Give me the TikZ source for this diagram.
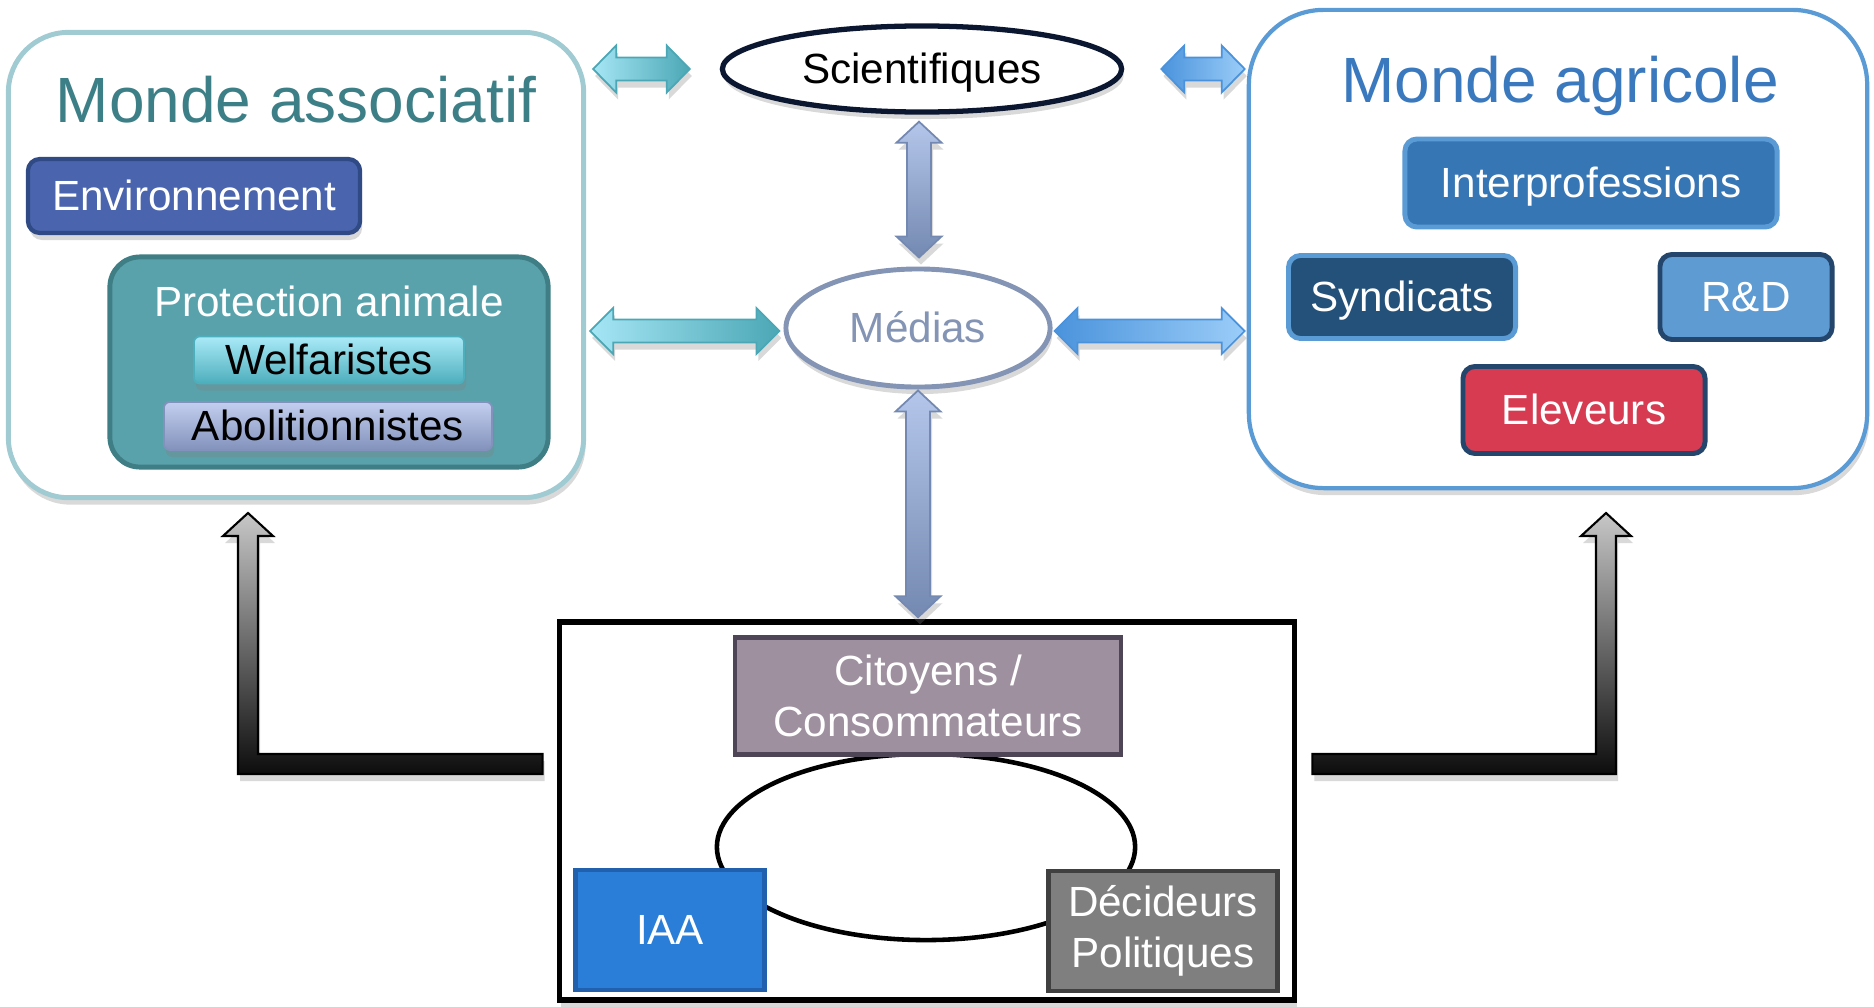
\documentclass[tikz,border=0pt]{standalone}
\usepackage{fontspec}
\setmainfont{Liberation Sans}
\usetikzlibrary{calc,shapes.geometric,shadows}
\definecolor{assocline}{HTML}{A0CBD3}
\definecolor{assoctext}{HTML}{3D7F87}
\definecolor{envfill}{HTML}{4A65AE}
\definecolor{envline}{HTML}{2F4A84}
\definecolor{protfill}{HTML}{5AA2AB}
\definecolor{protline}{HTML}{3F7E85}
\definecolor{welfL}{HTML}{AAEAF8}
\definecolor{welfD}{HTML}{4DAEBC}
\definecolor{abolL}{HTML}{C4CFEF}
\definecolor{abolD}{HTML}{8292BC}
\definecolor{agriline}{HTML}{5B9BD5}
\definecolor{agritext}{HTML}{3B79BF}
\definecolor{interfill}{HTML}{3776B4}
\definecolor{syndfill}{HTML}{245179}
\definecolor{rdfill}{HTML}{5E9BD3}
\definecolor{navyline}{HTML}{24466C}
\definecolor{elevfill}{HTML}{D63B52}
\definecolor{scienceline}{HTML}{0B1631}
\definecolor{medialine}{HTML}{8494B4}
\definecolor{citfill}{HTML}{9E909F}
\definecolor{citline}{HTML}{4E4656}
\definecolor{iaafill}{HTML}{2A7ED8}
\definecolor{iaaline}{HTML}{2060AC}
\definecolor{decfill}{HTML}{7F7F7F}
\definecolor{decline}{HTML}{404040}
\definecolor{cyanL}{HTML}{A6E6F5}
\definecolor{cyanD}{HTML}{4BA7B5}
\definecolor{blueD}{HTML}{4A93DC}
\definecolor{blueL}{HTML}{9BCDF8}
\definecolor{slateL}{HTML}{B4C6EA}
\definecolor{slateD}{HTML}{7489B1}
\tikzset{
    softshadow/.style={
    drop shadow={shadow xshift=0.02cm,shadow yshift=-0.07cm,opacity=0.3}
    },
    oneline/.style={
    text height=10.86pt,text depth=2.54pt
    },
    group/.style={
    rectangle,fill=white,line width=1.4pt,inner sep=0pt
    },
    heading/.style={
    font=\fontsize{18.2}{22}\selectfont,text height=16.5pt,text depth=3.86pt
    },
    tag/.style={
    rectangle,rounded corners=0.12cm,line width=1.2pt,inner sep=0pt,text=white,oneline
    },
    actor/.style={
    rectangle,line width=1.2pt,inner sep=0pt,text=white,align=center
    },
    bubble/.style={
    ellipse,fill=white,line width=1.4pt,inner sep=0pt,oneline
    },
    cyanflow/.style={
    left color=cyanL,right color=cyanD,draw=cyanD,line width=0.5pt,softshadow
    },
    blueflow/.style={
    left color=blueD,right color=blueL,draw=blueD,line width=0.5pt,softshadow
    },
    slateflow/.style={
    top color=slateL,bottom color=slateD,draw=slateD,line width=0.5pt,softshadow
    },
    bendflow/.style={
    top color=black!22,bottom color=black!95,draw=black,line width=0.6pt,softshadow
    },
}
% block arrow with two heads: style, from, to, half shaft, half head, head length
\newcommand{\twoway}[6]{%
  \path[#1] (#2) -- ($(#2)!#6!(#3)!#5!90:(#3)$) -- ($(#2)!#6!(#3)!#4!90:(#3)$)
    -- ($(#3)!#6!(#2)!#4!-90:(#2)$) -- ($(#3)!#6!(#2)!#5!-90:(#2)$) -- (#3)
    -- ($(#3)!#6!(#2)!#5!90:(#2)$) -- ($(#3)!#6!(#2)!#4!90:(#2)$)
    -- ($(#2)!#6!(#3)!#4!-90:(#3)$) -- ($(#2)!#6!(#3)!#5!-90:(#3)$) -- cycle;}
\begin{document}
\begin{tikzpicture}[x=0.01cm, y=-0.01cm, font=\fontsize{12}{14.4}\selectfont]
   \useasboundingbox (0,0) rectangle (1874,1006);
   % monde associatif
   \node[group,draw=assocline,rounded corners=0.6cm,minimum width=5.75cm,minimum height=4.65cm,softshadow] (assoc) at (296,265) {};
   \node[heading,text=assoctext] (assoct) at (296,100) {Monde associatif};
   \node[tag,fill=envfill,draw=envline,minimum width=3.32cm,minimum height=0.74cm,softshadow] (env) at (194,196) {Environnement};
   \node[tag,rounded corners=0.3cm,fill=protfill,draw=protline,line width=1.4pt,minimum width=4.38cm,minimum height=2.1cm] (prot) at (329,362) {};
   \node[oneline,text=white] (prott) at (329,302) {Protection animale};
   \node[tag,rounded corners=0.06cm,line width=0.5pt,top color=welfL,bottom color=welfD,draw=welfD,text=black,minimum width=2.7cm,minimum height=0.47cm,softshadow] (welf) at (329,360) {Welfaristes};
   \node[tag,rounded corners=0.06cm,line width=0.5pt,top color=abolL,bottom color=abolD,draw=abolD,text=black,minimum width=3.28cm,minimum height=0.48cm,softshadow] (abol) at (328,426) {Abolitionnistes};
   % monde agricole
   \node[group,draw=agriline,line width=1.2pt,rounded corners=0.75cm,minimum width=6.18cm,minimum height=4.78cm,softshadow] (agri) at (1558,249) {};
   \node[heading,text=agritext] (agrit) at (1560,80) {Monde agricole};
   \node[tag,fill=interfill,draw=agriline,line width=1.4pt,minimum width=3.72cm,minimum height=0.88cm] (inter) at (1591,183) {Interprofessions};
   \node[tag,fill=syndfill,draw=agriline,line width=1.4pt,minimum width=2.27cm,minimum height=0.83cm] (synd) at (1402,297) {Syndicats};
   \node[tag,fill=rdfill,draw=navyline,line width=1.4pt,minimum width=1.72cm,minimum height=0.85cm] (rd) at (1746,297) {R\&D};
   \node[tag,fill=elevfill,draw=navyline,line width=1.4pt,minimum width=2.42cm,minimum height=0.87cm] (elev) at (1584,410) {Eleveurs};
   % scientifiques, medias
   \node[bubble,draw=scienceline,line width=1.5pt,minimum width=3.99cm,minimum height=0.86cm,softshadow] (sci) at (922,69) {Scientifiques};
   \node[bubble,draw=medialine,text=medialine,minimum width=2.64cm,minimum height=1.18cm,softshadow] (medias) at (918,328) {Médias};
   % citoyens, IAA, decideurs
   \node[rectangle,draw=black,fill=white,line width=1.5pt,minimum width=7.35cm,minimum height=3.78cm,softshadow] (soc) at (927,811) {};
   \node[ellipse,draw=black,line width=1.3pt,minimum width=4.18cm,minimum height=1.86cm] (ring) at (926,847) {};
   \node[actor,fill=citfill,draw=citline,minimum width=3.86cm,minimum height=1.17cm] (cit) at (928,696) {Citoyens /\\Consommateurs};
   \node[actor,fill=iaafill,draw=iaaline,minimum width=1.89cm,minimum height=1.2cm] (iaa) at (670,930) {IAA};
   \node[actor,fill=decfill,draw=decline,minimum width=2.29cm,minimum height=1.2cm] (dec) at (1163,931) {Décideurs\\Politiques};

   \coordinate (a1s) at ($(assoc.east |- sci)+(7,0)$);
   \coordinate (a1e) at ($(sci.west)+(-30,0)$);
   \coordinate (a2s) at ($(sci.east)+(37,0)$);
   \coordinate (a2e) at ($(agri.west |- sci)+(-2,0)$);
   \coordinate (a3s) at ($(assoc.east |- medias)+(4,3)$);
   \coordinate (a3e) at ($(medias.west)+(-4,3)$);
   \coordinate (a4s) at ($(medias.east)+(2,3)$);
   \coordinate (a4e) at ($(agri.west |- medias)+(-2,3)$);
   \coordinate (v1s) at ($(medias |- sci.south)+(1,7)$);
   \coordinate (v1e) at ($(medias.north)+(1,-9)$);
   \coordinate (v2s) at ($(medias.south)+(0,1)$);
   \coordinate (v2e) at ($(medias.south |- soc.north)+(0,-2)$);
   \twoway{cyanflow}{a1s}{a1e}{0.115cm}{0.235cm}{0.23cm}
   \twoway{blueflow}{a2s}{a2e}{0.115cm}{0.235cm}{0.23cm}
   \twoway{cyanflow}{a3s}{a3e}{0.115cm}{0.23cm}{0.23cm}
   \twoway{blueflow}{a4s}{a4e}{0.115cm}{0.23cm}{0.23cm}
   \twoway{slateflow}{v1s}{v1e}{0.12cm}{0.225cm}{0.21cm}
   \twoway{slateflow}{v2s}{v2e}{0.12cm}{0.225cm}{0.21cm}

   % bent arrows up to both groups
   \coordinate (barL) at ($(soc.west |- 0,764)+(-14,0)$);
   \coordinate (tipL) at (248,513);
   \coordinate (barR) at ($(soc.east |- 0,764)+(15,0)$);
   \coordinate (tipR) at (1606,513);
   \path[bendflow] ($(barL)+(0,-10)$) -- ($(tipL |- barL)+(10,-10)$) -- ($(tipL)+(10,23)$)
     -- ($(tipL)+(25,23)$) -- (tipL) -- ($(tipL)+(-25,23)$) -- ($(tipL)+(-10,23)$)
     -- ($(tipL |- barL)+(-10,10)$) -- ($(barL)+(0,10)$) -- cycle;
   \path[bendflow] ($(barR)+(0,-10)$) -- ($(tipR |- barR)+(-10,-10)$) -- ($(tipR)+(-10,23)$)
     -- ($(tipR)+(-25,23)$) -- (tipR) -- ($(tipR)+(25,23)$) -- ($(tipR)+(10,23)$)
     -- ($(tipR |- barR)+(10,10)$) -- ($(barR)+(0,10)$) -- cycle;
\end{tikzpicture}
\end{document}
